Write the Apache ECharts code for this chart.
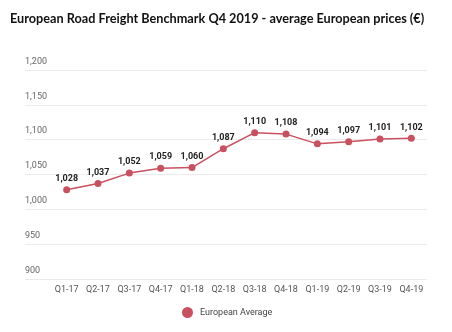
<!DOCTYPE html>
<html>
<head>
<meta charset="utf-8">
<script src="https://cdn.jsdelivr.net/npm/echarts@6/dist/echarts.min.js"></script>
<style>
  html, body { margin: 0; padding: 0; background: #fff; }
  #chart { width: 452px; height: 332px; }
</style>
</head>
<body>
<div id="chart"></div>
<script>
// Quarterly average European road freight prices (€)
const quarters = ['Q1-17', 'Q2-17', 'Q3-17', 'Q4-17', 'Q1-18', 'Q2-18',
                  'Q3-18', 'Q4-18', 'Q1-19', 'Q2-19', 'Q3-19', 'Q4-19'];
const europeanAverage = [1028, 1037, 1052, 1059, 1060, 1087,
                         1110, 1108, 1094, 1097, 1101, 1102];
const yMin = 900;
const yMax = 1200;
const yStep = 50;

const lineColor = '#c9515f';
const fmt = v => v.toLocaleString('en-US');

const chart = echarts.init(document.getElementById('chart'), null, { renderer: 'canvas' });

chart.setOption({
  animation: false,
  backgroundColor: '#ffffff',
  title: {
    text: 'European Road Freight Benchmark Q4 2019 - average European prices (€)',
    left: 5,
    top: 7,
    textStyle: {
      fontFamily: 'Lato',
      fontWeight: 'bold',
      fontSize: 12.7,
      color: '#111'
    }
  },
  legend: {
    bottom: 9,
    left: 177,
    icon: 'circle',
    itemWidth: 11,
    itemHeight: 11,
    itemGap: 6,
    textStyle: { fontFamily: 'Roboto', fontSize: 9, color: '#444', padding: [0, 0, 0, 2] },
    data: ['European Average']
  },
  grid: [
    // plotting area for the series
    { left: 51, right: 25, top: 70, height: 209 },
    // wider area carrying the value gridlines and their labels
    { left: 25, right: 25, top: 70, height: 209 }
  ],
  xAxis: [
    {
      gridIndex: 0,
      type: 'category',
      data: quarters,
      boundaryGap: true,
      axisLine: { show: false },
      axisTick: { show: false },
      axisLabel: { interval: 0, fontFamily: 'Roboto', fontSize: 9, color: '#555', margin: 6 }
    },
    {
      gridIndex: 1,
      type: 'value',
      show: false
    }
  ],
  yAxis: [
    {
      gridIndex: 0,
      type: 'value',
      min: yMin, max: yMax, interval: yStep,
      show: false,
      splitLine: { show: false }
    },
    {
      gridIndex: 1,
      type: 'value',
      min: yMin, max: yMax, interval: yStep,
      axisLine: { show: false },
      axisTick: { show: false },
      axisLabel: {
        inside: true,
        margin: 0,
        verticalAlign: 'bottom',
        padding: [0, 0, 4, 0],
        fontFamily: 'Roboto',
        fontSize: 9,
        color: '#666',
        formatter: fmt
      },
      splitLine: { lineStyle: { color: '#ebebeb', width: 1 } }
    }
  ],
  series: [
    {
      name: 'European Average',
      type: 'line',
      xAxisIndex: 0,
      yAxisIndex: 0,
      data: europeanAverage,
      symbol: 'circle',
      symbolSize: 7,
      itemStyle: { color: lineColor },
      lineStyle: { color: lineColor, width: 1.5 },
      label: {
        show: true,
        position: 'top',
        distance: 3,
        fontFamily: 'Roboto',
        fontWeight: 'bold',
        fontSize: 9,
        color: '#222',
        formatter: p => fmt(p.value)
      }
    }
  ]
});
</script>
</body>
</html>
